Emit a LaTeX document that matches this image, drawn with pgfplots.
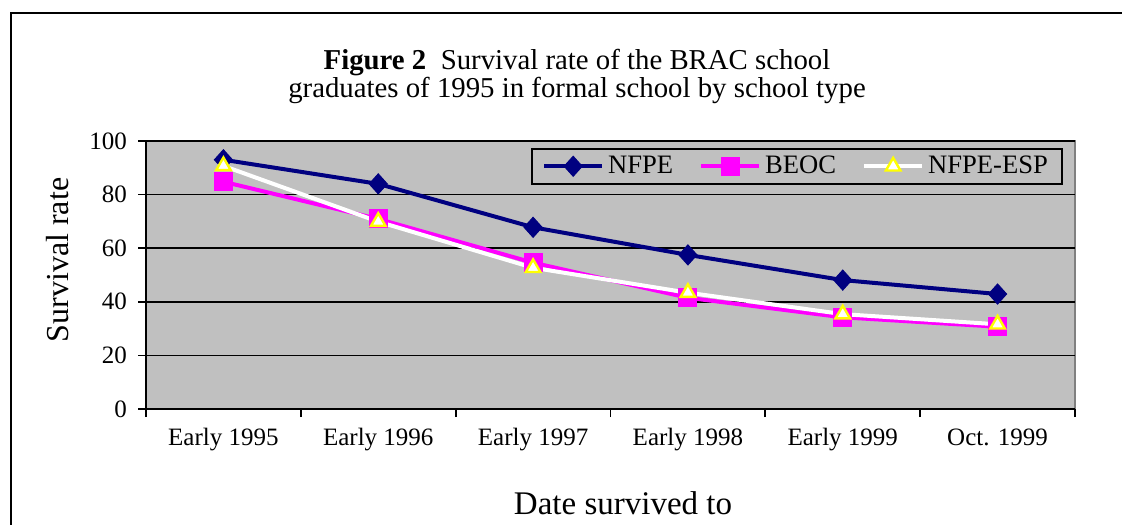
\documentclass[border=0pt]{standalone}
\usepackage{pgfplots}
\pgfplotsset{compat=1.18}
\usepackage{fontspec}
\setmainfont{Liberation Serif}
\definecolor{navyc}{RGB}{0,0,128}
\definecolor{magc}{RGB}{255,0,255}
\definecolor{bgc}{RGB}{192,192,192}
\definecolor{yelc}{RGB}{255,255,0}
\begin{document}
\begin{tikzpicture}
\useasboundingbox (0,0) rectangle (561pt,262pt);
\draw[line width=1.3pt] (5.5pt,-2pt) -- (5.5pt,255.5pt) -- (563pt,255.5pt);
\begin{axis}[
  at={(73pt,57.5pt)}, anchor=south west,
  width=464.5pt, height=134pt, scale only axis,
  xmin=-0.5, xmax=5.5, ymin=0, ymax=100,
  xtick={0,1,2,3,4,5},
  xticklabels={Early 1995,Early 1996,Early 1997,Early 1998,Early 1999,Oct. 1999},
  minor xtick={-0.5,0.5,1.5,2.5,3.5,4.5,5.5},
  ytick={0,20,40,60,80,100},
  major x tick style={draw=none},
  tick align=outside,
  major tick length=4pt, minor tick length=4pt,
  tick style={black, line width=0.9pt},
  axis x line*=bottom, axis y line*=left,
  axis line style={black, line width=1pt},
  axis background/.style={fill=bgc, draw=gray, line width=1pt},
  ymajorgrids, major grid style={black, line width=0.8pt},
  /pgf/number format/assume math mode=true,
  tick label style={font=\fontsize{12.5}{14}\selectfont},
  xticklabel style={anchor=base, yshift=-14pt},
  yticklabel style={anchor=east, xshift=-2pt},
  legend columns=3,
  legend style={at={(rel axis cs:0.987,0.974)}, anchor=north east,
    draw=black, line width=1pt, fill=bgc,
    font=\fontsize{13.3}{15}\selectfont,
    /tikz/every even column/.append style={column sep=11pt},
    inner xsep=5pt, inner ysep=1.5pt},
  legend image code/.code={
    \draw[mark repeat=2,mark phase=2,#1] plot coordinates {(0pt,0pt) (14.5pt,0pt) (29pt,0pt)};},
  clip=false,
]
\addplot[navyc, line width=2pt, mark=diamond*, mark size=5pt,
  mark options={fill=navyc, draw=navyc, line width=0.5pt, xscale=1.2}]
  coordinates {(0,93) (1,84) (2,67.8) (3,57.5) (4,48.1) (5,42.9)};
\addlegendentry{NFPE}
\addplot[magc, line width=2pt, mark=square*, mark size=4.5pt,
  mark options={fill=magc, draw=magc, line width=0.5pt}]
  coordinates {(0,84.8) (1,70.9) (2,54.6) (3,41.5) (4,34.2) (5,30.7)};
\addlegendentry{BEOC}
\addplot[white, line width=2pt, mark=triangle*, mark size=4.2pt,
  mark options={fill=white, draw=yelc, line width=1.2pt}]
  coordinates {(0,90.7) (1,69.9) (2,52.7) (3,43.4) (4,35.4) (5,31.6)};
\addlegendentry{NFPE-ESP}
\end{axis}
\node[font=\fontsize{14.4}{16}\selectfont, anchor=base] at (288.5pt,227pt) {\textbf{Figure 2}\ \ Survival rate of the BRAC school};
\node[font=\fontsize{14.4}{16}\selectfont, anchor=base] at (288.5pt,213pt) {graduates of 1995 in formal school by school type};
\node[font=\fontsize{16.5}{18}\selectfont, anchor=base] at (311.5pt,5pt) {Date survived to};
\node[font=\fontsize{16}{18}\selectfont, rotate=90] at (29pt,132pt) {Survival rate};
\end{tikzpicture}
\end{document}
